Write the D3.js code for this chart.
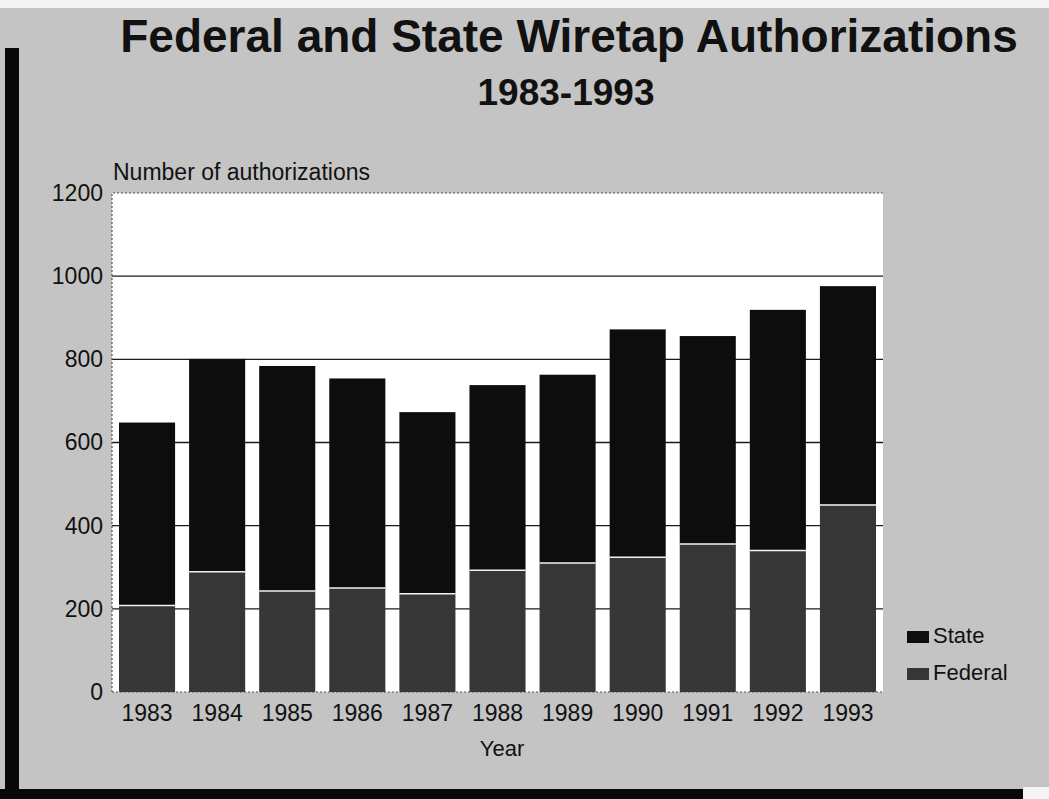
<!DOCTYPE html>
<html>
<head>
<meta charset="utf-8">
<script src="https://cdn.jsdelivr.net/npm/d3@7"></script>
<style>
  html, body { margin: 0; padding: 0; background: #c4c4c4; }
  svg { display: block; font-family: "Liberation Sans", Arial, Helvetica, sans-serif; }
</style>
</head>
<body>
<div id="chart"></div>
<script>
// Data
const years = ['1983', '1984', '1985', '1986', '1987', '1988', '1989', '1990', '1991', '1992', '1993'];
const federal = [208, 289, 243, 250, 236, 293, 310, 324, 356, 340, 450];
const state = [440, 512, 541, 504, 437, 445, 453, 548, 500, 579, 526];
const yTicks = [0, 200, 400, 600, 800, 1000, 1200];
const seriesNames = ['State', 'Federal'];

const W = 1049, H = 799;
const margin = { top: 193, right: 166, bottom: 107, left: 112 };

const colors = { State: '#0d0d0d', Federal: '#363636' };

const svg = d3.select('#chart').append('svg')
    .attr('width', W)
    .attr('height', H);

// page background + scan edges
svg.append('rect').attr('width', W).attr('height', H).attr('fill', '#c4c4c4');
svg.append('rect').attr('x', 0).attr('y', 0).attr('width', W).attr('height', 8).attr('fill', '#f4f4f4');
svg.append('rect').attr('x', 5).attr('y', 48).attr('width', 14).attr('height', H - 48).attr('fill', '#080808');
svg.append('rect').attr('x', 0).attr('y', 789).attr('width', 1023).attr('height', 10).attr('fill', '#080808');
svg.append('rect').attr('x', 1023).attr('y', 787).attr('width', W - 1023).attr('height', 12).attr('fill', '#f4f4f4');

// --- Titles ---
svg.append('text')
    .attr('x', 569).attr('y', 52)
    .attr('text-anchor', 'middle')
    .attr('font-size', 46).attr('font-weight', 700)
    .attr('fill', '#111')
    .text('Federal and State Wiretap Authorizations');

svg.append('text')
    .attr('x', 566).attr('y', 105)
    .attr('text-anchor', 'middle')
    .attr('font-size', 37).attr('font-weight', 700)
    .attr('fill', '#111')
    .text('1983-1993');

// --- Scales ---
const x = d3.scaleBand()
    .domain(years)
    .range([margin.left, W - margin.right])
    .paddingInner(0.2)
    .paddingOuter(0.1);

const y = d3.scaleLinear()
    .domain([0, 1200])
    .range([H - margin.bottom, margin.top]);

// plot area
svg.append('rect')
    .attr('x', margin.left).attr('y', y(1200))
    .attr('width', (W - margin.right) - margin.left)
    .attr('height', y(0) - y(1200))
    .attr('fill', '#ffffff');

// gridlines
svg.append('g').selectAll('line')
    .data(yTicks.filter(d => d > 0 && d < 1200))
    .join('line')
    .attr('x1', margin.left).attr('x2', W - margin.right)
    .attr('y1', d => y(d)).attr('y2', d => y(d))
    .attr('stroke', '#1a1a1a')
    .attr('stroke-width', 1.4);

// dotted frame on left, top, bottom
svg.append('path')
    .attr('d', `M${margin.left},${y(0)}V${y(1200)}H${W - margin.right}`)
    .attr('fill', 'none')
    .attr('stroke', '#555')
    .attr('stroke-width', 1.2)
    .attr('stroke-dasharray', '2,2');
svg.append('line')
    .attr('x1', margin.left).attr('x2', W - margin.right)
    .attr('y1', y(0)).attr('y2', y(0))
    .attr('stroke', '#555')
    .attr('stroke-width', 1.2)
    .attr('stroke-dasharray', '2,2');

// --- Bars (stacked) ---
const rows = years.map((yr, i) => ({ year: yr, Federal: federal[i], State: state[i] }));
const stack = d3.stack().keys(['Federal', 'State'])(rows);

const layers = svg.append('g').selectAll('g.layer')
    .data(stack)
    .join('g')
    .attr('class', 'layer')
    .attr('fill', d => colors[d.key]);

layers.selectAll('rect')
    .data(d => d)
    .join('rect')
    .attr('x', d => x(d.data.year))
    .attr('width', x.bandwidth())
    .attr('y', d => y(d[1]))
    .attr('height', d => y(d[0]) - y(d[1]));

// white seam between federal and state
svg.append('g').selectAll('line')
    .data(rows)
    .join('line')
    .attr('x1', d => x(d.year)).attr('x2', d => x(d.year) + x.bandwidth())
    .attr('y1', d => y(d.Federal)).attr('y2', d => y(d.Federal))
    .attr('stroke', '#f2f2f2')
    .attr('stroke-width', 1.5);

// --- Axes ---
const yAxis = svg.append('g')
    .attr('transform', `translate(${margin.left},0)`)
    .call(d3.axisLeft(y).tickValues(yTicks).tickFormat(d3.format('d')).tickSize(0).tickPadding(9));
yAxis.select('.domain').remove();
yAxis.selectAll('text')
    .attr('font-size', 23)
    .attr('fill', '#111')
    .attr('font-family', '"Liberation Sans", Arial, sans-serif');

const xAxis = svg.append('g')
    .attr('transform', `translate(0,${y(0)})`)
    .call(d3.axisBottom(x).tickSize(0).tickPadding(13));
xAxis.select('.domain').remove();
xAxis.selectAll('text')
    .attr('font-size', 23)
    .attr('fill', '#111')
    .attr('font-family', '"Liberation Sans", Arial, sans-serif');

svg.append('text')
    .attr('x', 113).attr('y', 180)
    .attr('font-size', 23)
    .attr('fill', '#111')
    .text('Number of authorizations');

svg.append('text')
    .attr('x', 502).attr('y', 756)
    .attr('text-anchor', 'middle')
    .attr('font-size', 22)
    .attr('fill', '#111')
    .text('Year');

// --- Legend ---
const legend = svg.append('g').attr('transform', 'translate(907,631)');
const li = legend.selectAll('g')
    .data(seriesNames)
    .join('g')
    .attr('transform', (d, i) => `translate(0,${i * 37})`);
li.append('rect')
    .attr('width', 22).attr('height', 12)
    .attr('fill', d => colors[d]);
li.append('text')
    .attr('x', 26).attr('y', 12)
    .attr('font-size', 22)
    .attr('fill', '#111')
    .text(d => d);
</script>
</body>
</html>
